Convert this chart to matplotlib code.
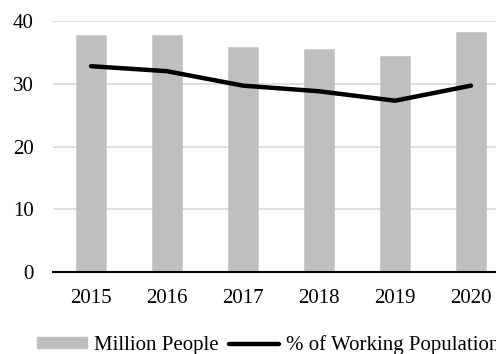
import matplotlib
matplotlib.use("Agg")
import matplotlib.pyplot as plt
from matplotlib.patches import Patch
from matplotlib.lines import Line2D

years = ["2015", "2016", "2017", "2018", "2019", "2020"]
million_people = [37.7, 37.7, 35.9, 35.6, 34.5, 38.2]
pct_working = [32.8, 32.0, 29.7, 28.8, 27.3, 29.7]
yticks = [0, 10, 20, 30, 40]

plt.rcParams['font.family'] = ['Liberation Serif', 'DejaVu Serif']

W, H = 496, 354
fig = plt.figure(figsize=(W/100, H/100), dpi=100)
left, right = 53, 509
top, bottom = 21, 272
ax = fig.add_axes([left/W, 1 - bottom/H, (right-left)/W, (bottom-top)/H])

x = list(range(len(years)))
ax.bar(x, million_people, width=0.395, color='#bfbfbf', edgecolor='#c8c8c8', linewidth=0.5, zorder=2)
ax.plot(x, pct_working, color='black', linewidth=3.2, solid_capstyle='round', zorder=3)

ax.set_xlim(-0.5, len(years) - 0.5)
ax.set_ylim(0, 40)
ax.set_yticks(yticks)
ax.set_xticks(x)
ax.set_xticklabels(years)
ax.tick_params(axis='both', length=0, labelsize=15, colors='black')
ax.tick_params(axis='x', pad=12)
ax.tick_params(axis='y', pad=13.7)
ax.grid(axis='y', color='#d9d9d9', linewidth=1.2, zorder=0)
ax.set_axisbelow(True)
for s in ['top', 'right', 'left']:
    ax.spines[s].set_visible(False)
ax.spines['bottom'].set_color('black')
ax.spines['bottom'].set_linewidth(1.5)
ax.spines['bottom'].set_zorder(4)

handles = [Patch(facecolor='#bfbfbf', edgecolor='#bfbfbf'),
           Line2D([0], [0], color='black', linewidth=3.2, solid_capstyle='round')]
fig.legend(handles, ['Million People', '% of Working Population'],
           loc='center left', bbox_to_anchor=(37/W, 1 - 345/H), ncol=2, frameon=False,
           fontsize=15, handlelength=2.4, handleheight=0.43, handletextpad=0.34,
           columnspacing=0.48, borderaxespad=0, borderpad=0)

fig.savefig('out.png', dpi=100)
